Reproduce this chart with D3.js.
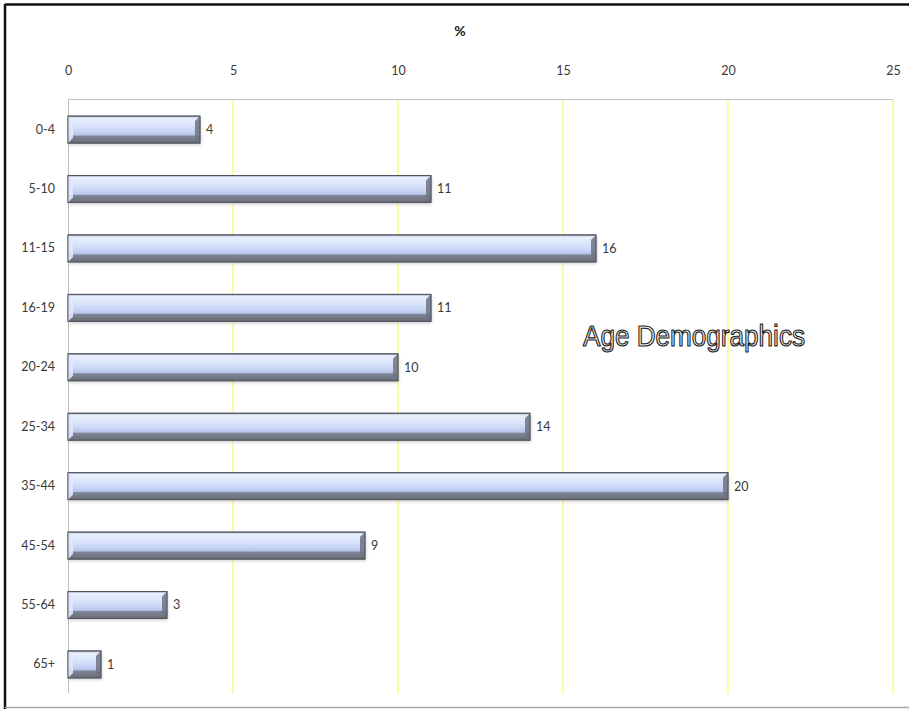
<!DOCTYPE html>
<html>
<head>
<meta charset="utf-8">
<script src="https://cdn.jsdelivr.net/npm/d3@7/dist/d3.min.js"></script>
<style>
  html, body { margin: 0; padding: 0; background: #fff; }
  svg { display: block; }
</style>
</head>
<body>
<script>
// Age groups and their share of the population (%)
const categories = ["0-4", "5-10", "11-15", "16-19", "20-24", "25-34", "35-44", "45-54", "55-64", "65+"];
const values = [4, 11, 16, 11, 10, 14, 20, 9, 3, 1];
const tickValues = [0, 5, 10, 15, 20, 25];
const axisTitle = "%";
const chartTitle = "Age Demographics";

const W = 909, H = 709;
const margin = { left: 68, right: 16, top: 99, bottom: 15 };

const svg = d3.select("body").append("svg")
  .attr("width", W).attr("height", H);

const defs = svg.append("defs");
const grad = defs.append("linearGradient")
  .attr("id", "barFill").attr("x1", 0).attr("y1", 0).attr("x2", 0).attr("y2", 1);
[
  [0, "#8e96aa"], [0.07, "#e9effd"], [0.3, "#dde6fb"], [0.55, "#c9d6f6"],
  [0.7, "#b6c4e9"], [0.74, "#80879a"], [1, "#676a72"]
].forEach(([o, c]) => grad.append("stop").attr("offset", o).attr("stop-color", c));

const shadow = defs.append("filter").attr("id", "soft")
  .attr("x", "-5%").attr("y", "-30%").attr("width", "110%").attr("height", "170%");
shadow.append("feGaussianBlur").attr("stdDeviation", 1.6);

// Outer frame
svg.append("line").attr("x1", 5).attr("x2", W).attr("y1", 4.5).attr("y2", 4.5)
  .attr("stroke", "#111").attr("stroke-width", 2.5);
svg.append("line").attr("x1", 5).attr("x2", 5).attr("y1", 4).attr("y2", H)
  .attr("stroke", "#111").attr("stroke-width", 2.5);
svg.append("line").attr("x1", 5).attr("x2", W).attr("y1", 707.5).attr("y2", 707.5)
  .attr("stroke", "#aaa").attr("stroke-width", 1.5);

const x = d3.scaleLinear().domain([0, 25]).range([margin.left, W - margin.right]);
const y = d3.scaleBand().domain(categories)
  .range([margin.top + 1, H - margin.bottom]).paddingInner(0.545).paddingOuter(0.27);

// Vertical gridlines
svg.append("g").selectAll("line")
  .data(tickValues.filter(d => d > 0))
  .join("line")
  .attr("x1", d => x(d)).attr("x2", d => x(d))
  .attr("y1", margin.top + 1).attr("y2", H - margin.bottom)
  .attr("stroke", "#fbfb8c").attr("stroke-width", 1.6);

// Plot top edge and category axis line
svg.append("line").attr("x1", x(0)).attr("x2", x(25))
  .attr("y1", margin.top + 0.5).attr("y2", margin.top + 0.5)
  .attr("stroke", "#c4c4c4").attr("stroke-width", 1);
svg.append("line").attr("x1", x(0) + 0.5).attr("x2", x(0) + 0.5)
  .attr("y1", margin.top).attr("y2", H - margin.bottom - 1)
  .attr("stroke", "#bdbdbd").attr("stroke-width", 1);

// Value axis on top
const xAxis = d3.axisTop(x).tickValues(tickValues).tickSize(0).tickPadding(0);
const gx = svg.append("g").attr("transform", "translate(0,75)").call(xAxis);
gx.select(".domain").remove();
gx.selectAll("text")
  .attr("font-family", "Lato, 'Open Sans', sans-serif").attr("font-size", 12.5)
  .attr("fill", "#3a3a3a");

svg.append("text").attr("x", 460).attr("y", 36).attr("text-anchor", "middle")
  .attr("font-family", "Lato, 'Open Sans', sans-serif").attr("font-weight", "bold")
  .attr("font-size", 14).attr("fill", "#222").text(axisTitle);

// Category axis on the left
const yAxis = d3.axisLeft(y).tickSize(0).tickPadding(13);
const gy = svg.append("g").attr("transform", `translate(${x(0)},0)`).call(yAxis);
gy.select(".domain").remove();
gy.selectAll("text")
  .attr("font-family", "Lato, 'Open Sans', sans-serif").attr("font-size", 12.5)
  .attr("fill", "#3a3a3a");

// Bars with bevel
const rows = categories.map((c, i) => ({ cat: c, val: values[i] }));
const bars = svg.append("g").selectAll("g").data(rows).join("g");
const bh = y.bandwidth();

bars.append("rect")
  .attr("x", x(0) + 1).attr("y", d => y(d.cat) + 2)
  .attr("width", d => x(d.val) - x(0)).attr("height", bh)
  .attr("fill", "#9a9a9a").attr("opacity", 0.45).attr("filter", "url(#soft)");

bars.append("rect")
  .attr("x", x(0)).attr("y", d => y(d.cat))
  .attr("width", d => x(d.val) - x(0)).attr("height", bh)
  .attr("fill", "url(#barFill)")
  .attr("stroke", "#5c606b").attr("stroke-width", 0.8);

// right-end bevel
const bev = 5;
bars.append("path")
  .attr("d", d => {
    const xr = x(d.val), t = y(d.cat), b = t + bh;
    return `M${xr},${t} L${xr},${b} L${xr - bev},${b - bev} L${xr - bev},${t + bev} Z`;
  })
  .attr("fill", "#6e7383").attr("opacity", 0.85);
// left-end bevel highlight
bars.append("path")
  .attr("d", d => {
    const xl = x(0), t = y(d.cat), b = t + bh;
    return `M${xl},${t} L${xl + bev},${t + bev} L${xl + bev},${b - bev} L${xl},${b} Z`;
  })
  .attr("fill", "#dfe8fc").attr("opacity", 0.9);
bars.append("rect")
  .attr("x", x(0)).attr("y", d => y(d.cat))
  .attr("width", d => x(d.val) - x(0)).attr("height", bh)
  .attr("fill", "none").attr("stroke", "#4f535d").attr("stroke-width", 0.9);

// Value labels
bars.append("text")
  .attr("x", d => x(d.val) + 6).attr("y", d => y(d.cat) + bh / 2)
  .attr("dy", "0.35em")
  .attr("font-family", "Lato, 'Open Sans', sans-serif").attr("font-size", 12.5)
  .attr("fill", "#3a3a3a").text(d => d.val);

// Chart title drawn as outlined lettering
svg.append("text").attr("x", 583).attr("y", 346)
  .attr("font-family", "'Liberation Sans Narrow', 'Liberation Sans', Arial, sans-serif")
  .attr("font-size", 29)
  .attr("textLength", 222).attr("lengthAdjust", "spacingAndGlyphs")
  .attr("fill", "#ececec").attr("stroke", "#1a1a1a").attr("stroke-width", 1.15)
  .attr("stroke-linejoin", "round")
  .text(chartTitle);
</script>
</body>
</html>
